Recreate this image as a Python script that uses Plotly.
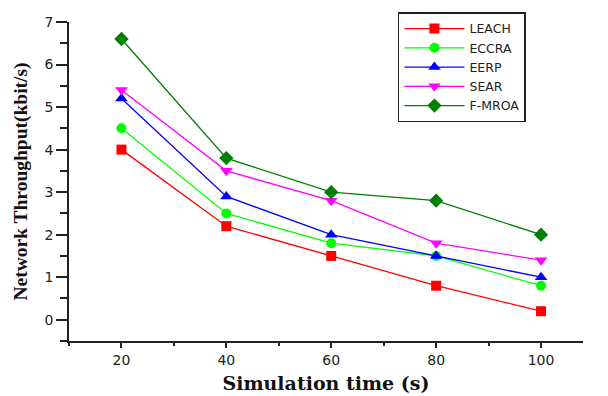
import plotly.graph_objects as go

sim_time = [20, 40, 60, 80, 100]
leach = [4.0, 2.2, 1.5, 0.8, 0.2]
eccra = [4.5, 2.5, 1.8, 1.5, 0.8]
eerp = [5.2, 2.9, 2.0, 1.5, 1.0]
sear = [5.4, 3.5, 2.8, 1.8, 1.4]
fmroa = [6.6, 3.8, 3.0, 2.8, 2.0]

series = [
    ("LEACH", leach, "#FF0000", "square", 10),
    ("ECCRA", eccra, "#00FF00", "circle", 10),
    ("EERP", eerp, "#0000FF", "triangle-up", 11),
    ("SEAR", sear, "#FF00FF", "triangle-down", 11),
    ("F-MROA", fmroa, "#007F00", "diamond", 11),
]

fig = go.Figure()
for name, vals, color, sym, size in series:
    fig.add_trace(go.Scatter(
        x=sim_time, y=vals, name=name, mode="lines+markers",
        line=dict(color=color, width=1.3),
        marker=dict(symbol=sym, size=size, color=color),
    ))

axis_font = dict(family="DejaVu Sans", size=14, color="#222")
# page body has an 8px default margin, so the figure is sized 600x388 to fill the 608x396 window
fig.update_layout(
    width=600, height=388,
    margin=dict(l=61, r=25, t=14, b=55, autoexpand=False),
    paper_bgcolor="white", plot_bgcolor="white",
    showlegend=True,
    legend=dict(
        x=0.64, y=1.03, xanchor="left", yanchor="top",
        bordercolor="#222", borderwidth=1.5, bgcolor="white",
        font=dict(family="DejaVu Sans", size=12.5, color="#222"),
        itemwidth=60, tracegroupgap=0,
    ),
    xaxis=dict(
        range=[10, 108], tickvals=sim_time, ticktext=[str(v) for v in sim_time],
        showline=True, linecolor="#222", linewidth=1.5, automargin=False,
        ticks="outside", ticklen=5, tickcolor="#222", tickwidth=1.5,
        minor=dict(dtick=10, tick0=0, ticks="outside", ticklen=3, tickcolor="#222", tickwidth=1.5),
        showgrid=False, zeroline=False, tickfont=axis_font,
        title=dict(text="Simulation time (s)", standoff=10,
                   font=dict(family="DejaVu Serif", size=19, color="#111", weight="bold")),
    ),
    yaxis=dict(
        range=[-0.5, 7], dtick=1, tick0=0,
        showline=True, linecolor="#222", linewidth=1.5, automargin=False,
        ticks="outside", ticklen=11, tickcolor="#222", tickwidth=1.5,
        minor=dict(dtick=0.5, tick0=0, ticks="outside", ticklen=7, tickcolor="#222", tickwidth=1.5),
        showgrid=False, zeroline=False, tickfont=axis_font,
        title=dict(text="Network Throughput(kbit/s)", standoff=12,
                   font=dict(family="Liberation Serif, Times New Roman", size=19.5, color="#111", weight="bold")),
    ),
    shapes=[dict(type="line", xref="paper", yref="paper", x0=-0.013, x1=0, y0=0, y1=0,
                 line=dict(color="#222", width=1.5))],
)

fig.write_html("out.html")
